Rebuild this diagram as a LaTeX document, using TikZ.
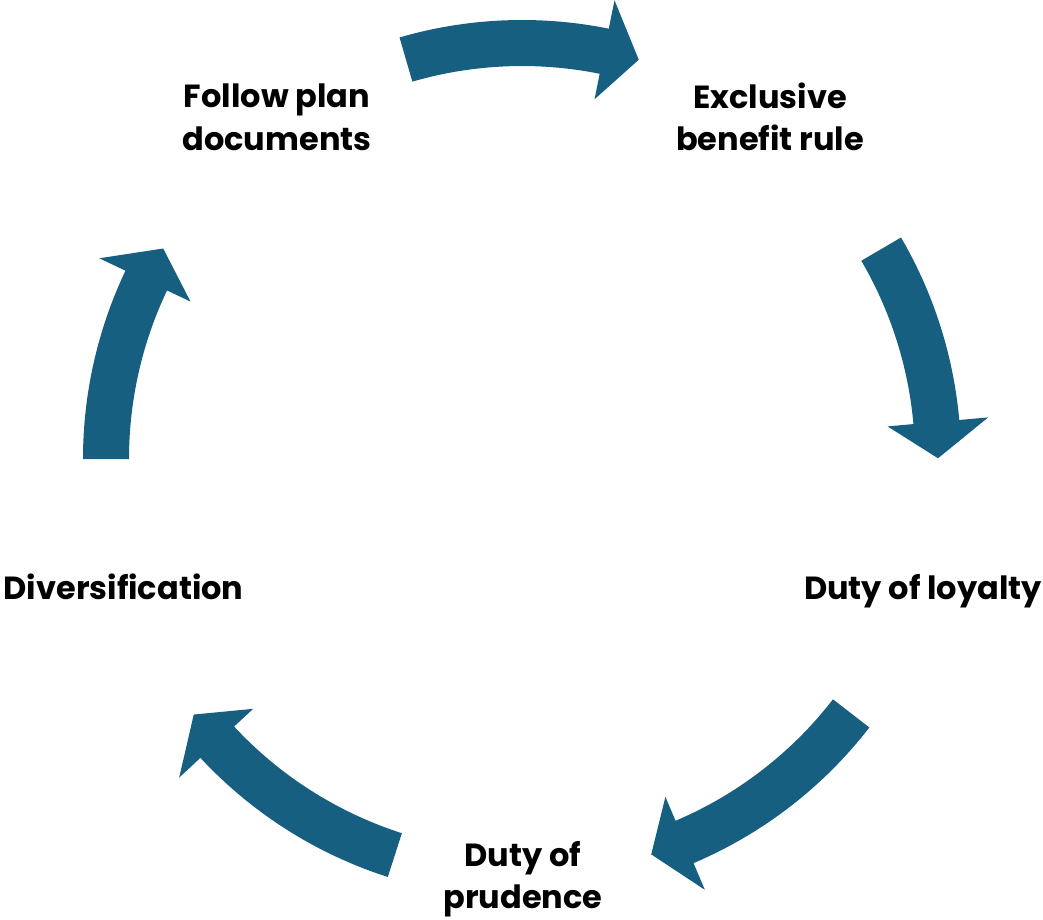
\documentclass[tikz,border=0pt]{standalone}
\usepackage{fontspec}
\setmainfont{Poppins}
\definecolor{cyclearrow}{RGB}{23,95,128}
\begin{document}
\begin{tikzpicture}[x=1pt,y=1pt,
  label/.style={font=\fontsize{32}{42.5}\selectfont\bfseries, text=black,
    align=center, inner sep=0pt, anchor=base},
  cyclearrow/.style={fill=cyclearrow, draw=none}]
\useasboundingbox (0,0) rectangle (1043,-919);
\coordinate (C) at (522,-459);
% curved block arrow: base angle, head-base angle, tip angle (clockwise)
\newcommand{\cyclearc}[3]{%
  \fill[cyclearrow]
    ([shift={(C)}]#1:439pt) arc[start angle=#1, end angle=#2, radius=439pt]
    -- ([shift={(C)}]#2:468pt)
    -- ([shift={(C)}]#3:416pt)
    -- ([shift={(C)}]#2:367pt)
    -- ([shift={(C)}]#2:393pt)
    arc[start angle=#2, end angle=#1, radius=393pt] -- cycle;}
\cyclearc{106.2}{78.6}{73.7}
\cyclearc{30.3}{5.1}{0.1}
\cyclearc{-37.7}{-67}{-71.9}
\cyclearc{-107.8}{-137.1}{-142.1}
\cyclearc{180}{154.6}{149.6}

% multi-line labels are anchored at the baseline of their last line
\node[label] (follow) at (277,-150) {Follow plan\\documents};
\node[label] (exclusive) at (770,-150.5) {Exclusive\\benefit rule};
\node[label] (loyalty) at (923,-599.3) {Duty of loyalty};
\node[label] (prudence) at (523,-908.5) {Duty of\\prudence};
\node[label] (divers) at (123.5,-599.7) {Diversification};
\end{tikzpicture}
\end{document}
